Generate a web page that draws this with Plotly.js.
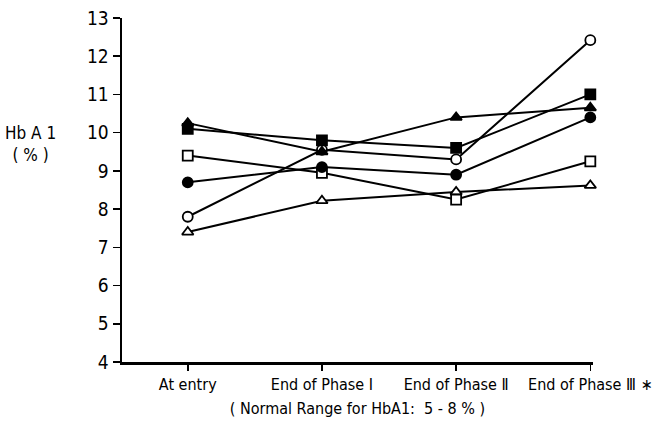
<!DOCTYPE html>
<html><head><meta charset="utf-8">
<script src="https://cdn.plot.ly/plotly-3.0.1.min.js"></script>
<style>body{margin:0;background:#fff}</style>
</head><body>
<div id="chart" style="width:665px;height:421px"></div>
<script>
const categories = ["At entry", "End of Phase Ⅰ", "End of Phase Ⅱ", "End of Phase Ⅲ ∗"];
const filledTriangle = [10.25, 9.5, 10.4, 10.65];
const filledSquare   = [10.1, 9.8, 9.6, 11.0];
const openSquare     = [9.4, 8.95, 8.25, 9.25];
const filledCircle   = [8.7, 9.1, 8.9, 10.4];
const openCircle     = [7.8, 9.55, 9.3, 12.42];
const openTriangle   = [7.4, 8.22, 8.45, 8.62];

const xIdx = categories.map((c, i) => i);
function tr(y, symbol, filled) {
  return {
    x: xIdx, y: y, type: 'scatter', mode: 'lines+markers',
    line: {color: '#000', width: 2},
    marker: {symbol: symbol, size: 10,
      color: filled ? '#000' : '#fff', line: {color: '#000', width: 1.8}},
    cliponaxis: false, hoverinfo: 'skip'
  };
}
const data = [
  tr(openTriangle, 'triangle-up', false),
  tr(openSquare, 'square', false),
  tr(openCircle, 'circle', false),
  tr(filledCircle, 'circle', true),
  tr(filledSquare, 'square', true),
  tr(filledTriangle, 'triangle-up', true)
];
const fontFam = '"DejaVu Sans Condensed", "Liberation Sans Narrow", sans-serif';
const layout = {
  width: 665, height: 421,
  margin: {l: 122, r: 72, t: 18, b: 59},
  paper_bgcolor: '#fff', plot_bgcolor: '#fff',
  showlegend: false,
  font: {family: fontFam, color: '#000', size: 16},
  xaxis: {
    range: [-0.49, 3.02], tickvals: xIdx, ticktext: categories,
    showgrid: false, zeroline: false, showline: true, linecolor: '#000', linewidth: 2.5,
    ticks: 'outside', ticklen: 6, tickwidth: 1.5, tickcolor: '#000',
    tickfont: {size: 16, family: fontFam},
    title: {text: '( Normal Range for HbA1:  5 - 8 % )', font: {size: 16, family: fontFam}, standoff: 10}
  },
  yaxis: {
    range: [4, 13], tickvals: [4,5,6,7,8,9,10,11,12,13],
    showgrid: false, zeroline: false, showline: true, linecolor: '#000', linewidth: 2.5,
    ticks: 'outside', ticklen: 7, tickwidth: 1.5, tickcolor: '#000',
    tickfont: {size: 19, family: fontFam}
  },
  annotations: [{
    text: 'Hb A 1<br>( % )', xref: 'paper', yref: 'paper',
    x: -0.195, y: 0.635, xanchor: 'center', yanchor: 'middle',
    showarrow: false, font: {size: 17, family: fontFam}
  }]
};
Plotly.newPlot('chart', data, layout, {staticPlot: true});
</script>
</body></html>
